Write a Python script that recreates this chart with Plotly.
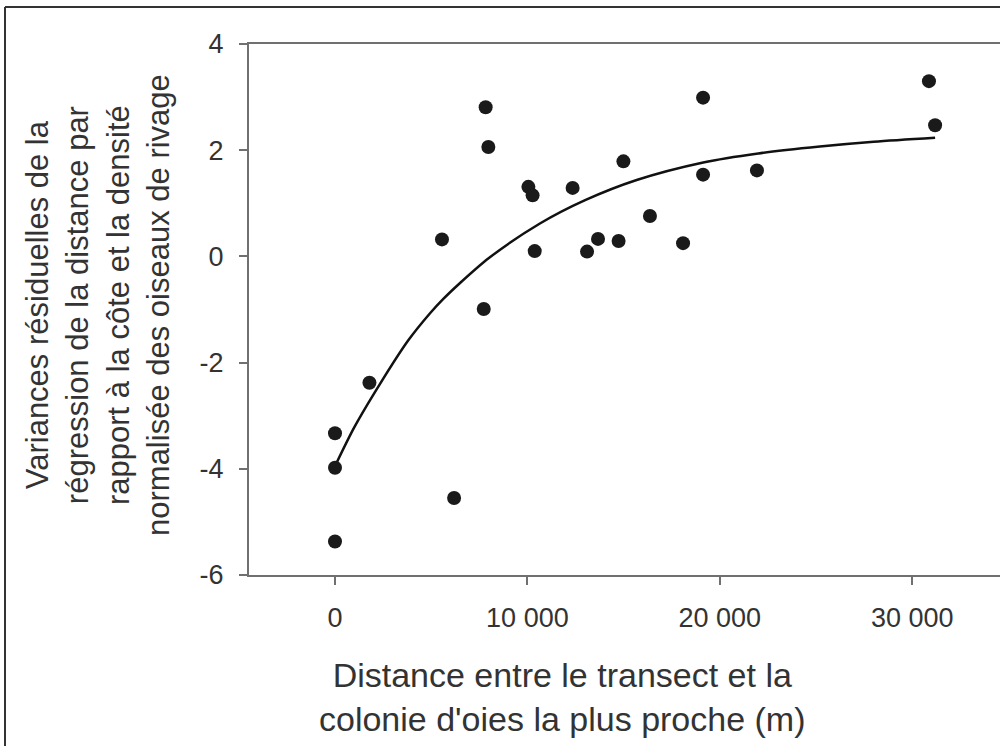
import plotly.graph_objects as go

# Observed points (distance in m, residual variance)
x_dist = [0, 0, 0, 1790, 5560, 6190, 7730, 7830, 7970, 10050, 10270, 10380,
          12350, 13100, 13670, 14740, 14990, 16370, 18090, 19130, 19130,
          21930, 30870, 31190]
y_resid = [-3.33, -3.98, -5.37, -2.38, 0.32, -4.55, -0.99, 2.81, 2.06, 1.31,
           1.15, 0.10, 1.29, 0.09, 0.33, 0.29, 1.79, 0.76, 0.25, 2.99, 1.54,
           1.62, 3.30, 2.47]

# Fitted curve
curve_x = [0, 1000, 2340, 3810, 4940, 5630, 6500, 8000, 10650, 13000, 15680,
           19140, 22000, 25200, 28000, 31190]
curve_y = [-3.95, -3.22, -2.40, -1.58, -1.07, -0.80, -0.50, -0.03, 0.62, 1.06,
           1.44, 1.77, 1.94, 2.07, 2.16, 2.235]

x_tick_vals = [0, 10000, 20000, 30000]
x_tick_text = ["0", "10 000", "20 000", "30 000"]
y_tick_vals = [-6, -4, -2, 0, 2, 4]
y_tick_text = ["-6", "-4", "-2", "0", "2", "4"]

x_title = "Distance entre le transect et la<br>colonie d'oies la plus proche (m)"
y_title = ("Variances résiduelles de la<br>régression de la distance par<br>"
           "rapport à la côte et la densité<br>normalisée des oiseaux de rivage")

FONT = "Liberation Sans, Arial, sans-serif"
TXT = "#333333"
AX = "#707070"

fig = go.Figure()
fig.add_trace(go.Scatter(x=curve_x, y=curve_y, mode="lines",
                         line=dict(color="#111111", width=2.5, shape="spline",
                                   smoothing=0.8),
                         hoverinfo="skip", showlegend=False))
fig.add_trace(go.Scatter(x=x_dist, y=y_resid, mode="markers",
                         marker=dict(size=14, color="#1a1a1a", line=dict(width=0)),
                         showlegend=False, cliponaxis=False))

W, H = 1000, 746
L, R, T, B = 249, 0, 44, 171
pw, ph = W - L - R, H - T - B

def px(xpix):
    return (xpix - L) / pw

def py(ypix):
    return (H - B - ypix) / ph

fig.update_layout(
    width=W, height=H, autosize=False,
    margin=dict(l=L, r=R, t=T, b=B, pad=0),
    paper_bgcolor="white", plot_bgcolor="white",
    font=dict(family=FONT, color=TXT),
    xaxis=dict(range=[-4470, 34563], tickvals=x_tick_vals, ticktext=x_tick_text,
               showgrid=False, zeroline=False, showline=True, mirror=True,
               linecolor=AX, linewidth=2, ticks="outside", ticklen=8,
               tickwidth=1.5, tickcolor=AX, tickfont=dict(size=27, color=TXT),
               ticklabelstandoff=10),
    yaxis=dict(range=[-6, 4], tickvals=y_tick_vals, ticktext=y_tick_text,
               showgrid=False, zeroline=False, showline=True, mirror=False,
               linecolor=AX, linewidth=2, ticks="outside", ticklen=8,
               tickwidth=1.5, tickcolor=AX, tickfont=dict(size=27, color=TXT),
               ticklabelstandoff=10),
    annotations=[
        dict(text=x_title, xref="paper", yref="paper", x=px(562), y=py(697),
             xanchor="center", yanchor="middle", showarrow=False,
             font=dict(size=34, color=TXT, family=FONT)),
        dict(text=y_title, xref="paper", yref="paper", x=px(98), y=py(305),
             xanchor="center", yanchor="middle", showarrow=False, textangle=-90,
             font=dict(size=31, color=TXT, family=FONT)),
    ],
    shapes=[
        dict(type="line", xref="paper", yref="paper", x0=px(5), x1=px(1010),
             y0=py(7), y1=py(7), line=dict(color="#333333", width=2)),
        dict(type="line", xref="paper", yref="paper", x0=px(5), x1=px(5),
             y0=py(7), y1=py(760), line=dict(color="#333333", width=2)),
    ],
)

fig.write_html("out.html")
